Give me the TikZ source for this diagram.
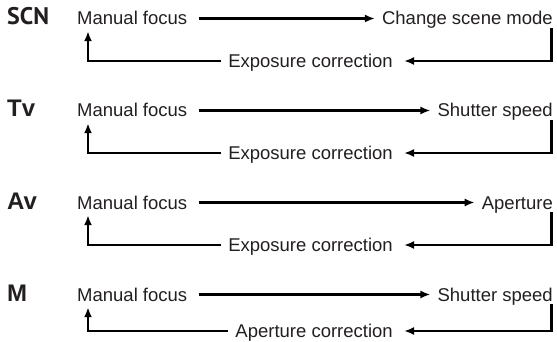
\documentclass[tikz,border=0pt]{standalone}
\usepackage{fontspec}
\setmainfont{Liberation Sans}
\newfontfamily\scnfont{PT Sans}
\usetikzlibrary{arrows.meta}
\definecolor{ink}{HTML}{231F20}
\begin{document}
\begin{tikzpicture}[x=1pt,y=1pt,
  txt/.style={inner sep=0pt, text height=13pt, text depth=0pt, font=\fontsize{18.5}{20}\selectfont, text=ink},
  head/.style={inner sep=0pt, anchor=base west, font=\fontsize{24}{26}\selectfont\bfseries, text=ink},
  conn/.style={line width=2.2pt, draw=black, -{Latex[length=10pt,width=8pt]}},
  fwd/.style={conn, shorten <=12pt, shorten >=7pt},
]
\useasboundingbox (0,0) rectangle (557,-342);

% Row 1: SCN
\node[head] (h1) at (7,-25) {\scnfont SCN};
\node[txt, anchor=base west] (m1) at (77,-25) {Manual focus};
\node[txt, anchor=base east] (t1) at (553,-25) {Change scene mode};
\node[txt, anchor=base east] (c1) at (393,-67.5) {Exposure correction};
\draw[fwd] (m1.east) -- (t1.west);
\draw[conn] ([xshift=-1.5pt,yshift=-3pt]t1.south east) |- ([xshift=11pt]c1.east);
\draw[conn] ([xshift=-7pt]c1.west) -| ([xshift=11pt,yshift=-6pt]m1.south west);

% Row 2: Tv
\node[head] (h2) at (7,-117) {Tv};
\node[txt, anchor=base west] (m2) at (77,-117) {Manual focus};
\node[txt, anchor=base east] (t2) at (553,-117) {Shutter speed};
\node[txt, anchor=base east] (c2) at (393,-159.5) {Exposure correction};
\draw[fwd] (m2.east) -- (t2.west);
\draw[conn] ([xshift=-1.5pt,yshift=-3pt]t2.south east) |- ([xshift=11pt]c2.east);
\draw[conn] ([xshift=-7pt]c2.west) -| ([xshift=11pt,yshift=-6pt]m2.south west);

% Row 3: Av
\node[head] (h3) at (7,-209) {Av};
\node[txt, anchor=base west] (m3) at (77,-209) {Manual focus};
\node[txt, anchor=base east] (t3) at (553,-209) {Aperture};
\node[txt, anchor=base east] (c3) at (393,-251.5) {Exposure correction};
\draw[fwd] (m3.east) -- (t3.west);
\draw[conn] ([xshift=-1.5pt,yshift=-3pt]t3.south east) |- ([xshift=11pt]c3.east);
\draw[conn] ([xshift=-7pt]c3.west) -| ([xshift=11pt,yshift=-6pt]m3.south west);

% Row 4: M
\node[head] (h4) at (7,-301) {M};
\node[txt, anchor=base west] (m4) at (77,-301) {Manual focus};
\node[txt, anchor=base east] (t4) at (553,-301) {Shutter speed};
\node[txt, anchor=base east] (c4) at (393,-337.5) {Aperture correction};
\draw[fwd] (m4.east) -- (t4.west);
\draw[conn] ([xshift=-1.5pt,yshift=-3pt]t4.south east) |- ([xshift=11pt]c4.east);
\draw[conn] ([xshift=-7pt]c4.west) -| ([xshift=11pt,yshift=-6pt]m4.south west);
\end{tikzpicture}
\end{document}
